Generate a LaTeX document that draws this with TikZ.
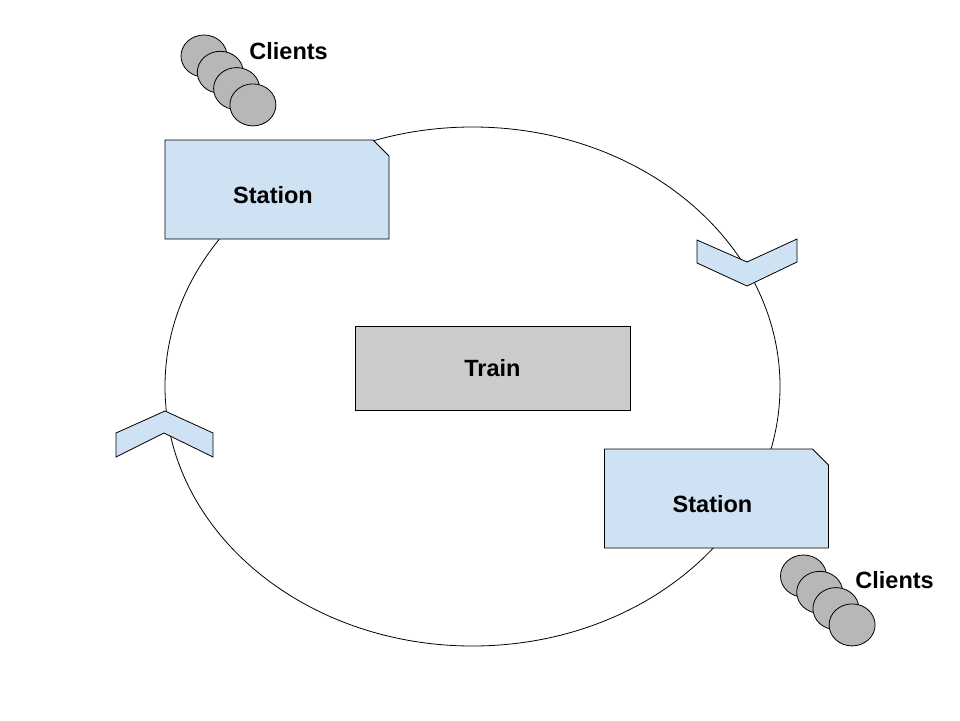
\documentclass[tikz,border=0pt]{standalone}
\usepackage{fontspec}
\setmainfont{Liberation Sans}
\usetikzlibrary{shapes.misc,shapes.geometric}
\definecolor{stationblue}{HTML}{CFE2F3}
\definecolor{traingray}{HTML}{CCCCCC}
\definecolor{clientgray}{HTML}{B7B7B7}
\begin{document}
\begin{tikzpicture}[x=1pt,y=-1pt,line width=0.8pt]
        \tikzstyle{station}=[chamfered rectangle, chamfered rectangle corners=north east, chamfered rectangle sep=8pt, draw, fill=stationblue, minimum width=224pt, minimum height=99pt, inner sep=0pt, text height=27pt, text depth=0pt, font=\fontsize{23.5}{28}\selectfont\bfseries]
        \tikzstyle{train}=[rectangle, draw, fill=traingray, minimum width=275pt, minimum height=84pt, font=\fontsize{23.5}{28}\selectfont\bfseries]
        \tikzstyle{client}=[ellipse, draw, fill=clientgray, minimum width=46pt, minimum height=42pt, inner sep=0pt]
        \tikzstyle{clientstext}=[anchor=west, inner sep=0pt, font=\fontsize{23.5}{28}\selectfont\bfseries]
        \tikzstyle{chevron}=[draw, fill=stationblue, line join=miter]

        \useasboundingbox (0,0) rectangle (960,720);

        \draw (472.5,386.5) ellipse [x radius=307.5, y radius=259.5];

        \node[train] (train) at (492.5,368) {Train};

        \node[station] (station1) at (277,189.5) {\hspace*{-8pt}Station};
        \node[station] (station2) at (716.5,498.5) {\hspace*{-8pt}Station};

        \draw[chevron] (697,240) -- (747,262) -- (797,239) -- (797,262) -- (747,286) -- (697,263) -- cycle;
        \draw[chevron] (165,411) -- (213,433) -- (213,457) -- (164,433) -- (116,457) -- (116,433) -- cycle;

        \foreach \i in {0,...,3} {
            \node[client] (clienta\i) at ({204+16.3*\i},{56+16.3*\i}) {};
            \node[client] (clientb\i) at ({803.5+16.2*\i},{576+16.3*\i}) {};
        }
        \node[clientstext] (clientsa) at (249,51) {Clients};
        \node[clientstext] (clientsb) at (855,580) {Clients};
    \end{tikzpicture}
\end{document}
